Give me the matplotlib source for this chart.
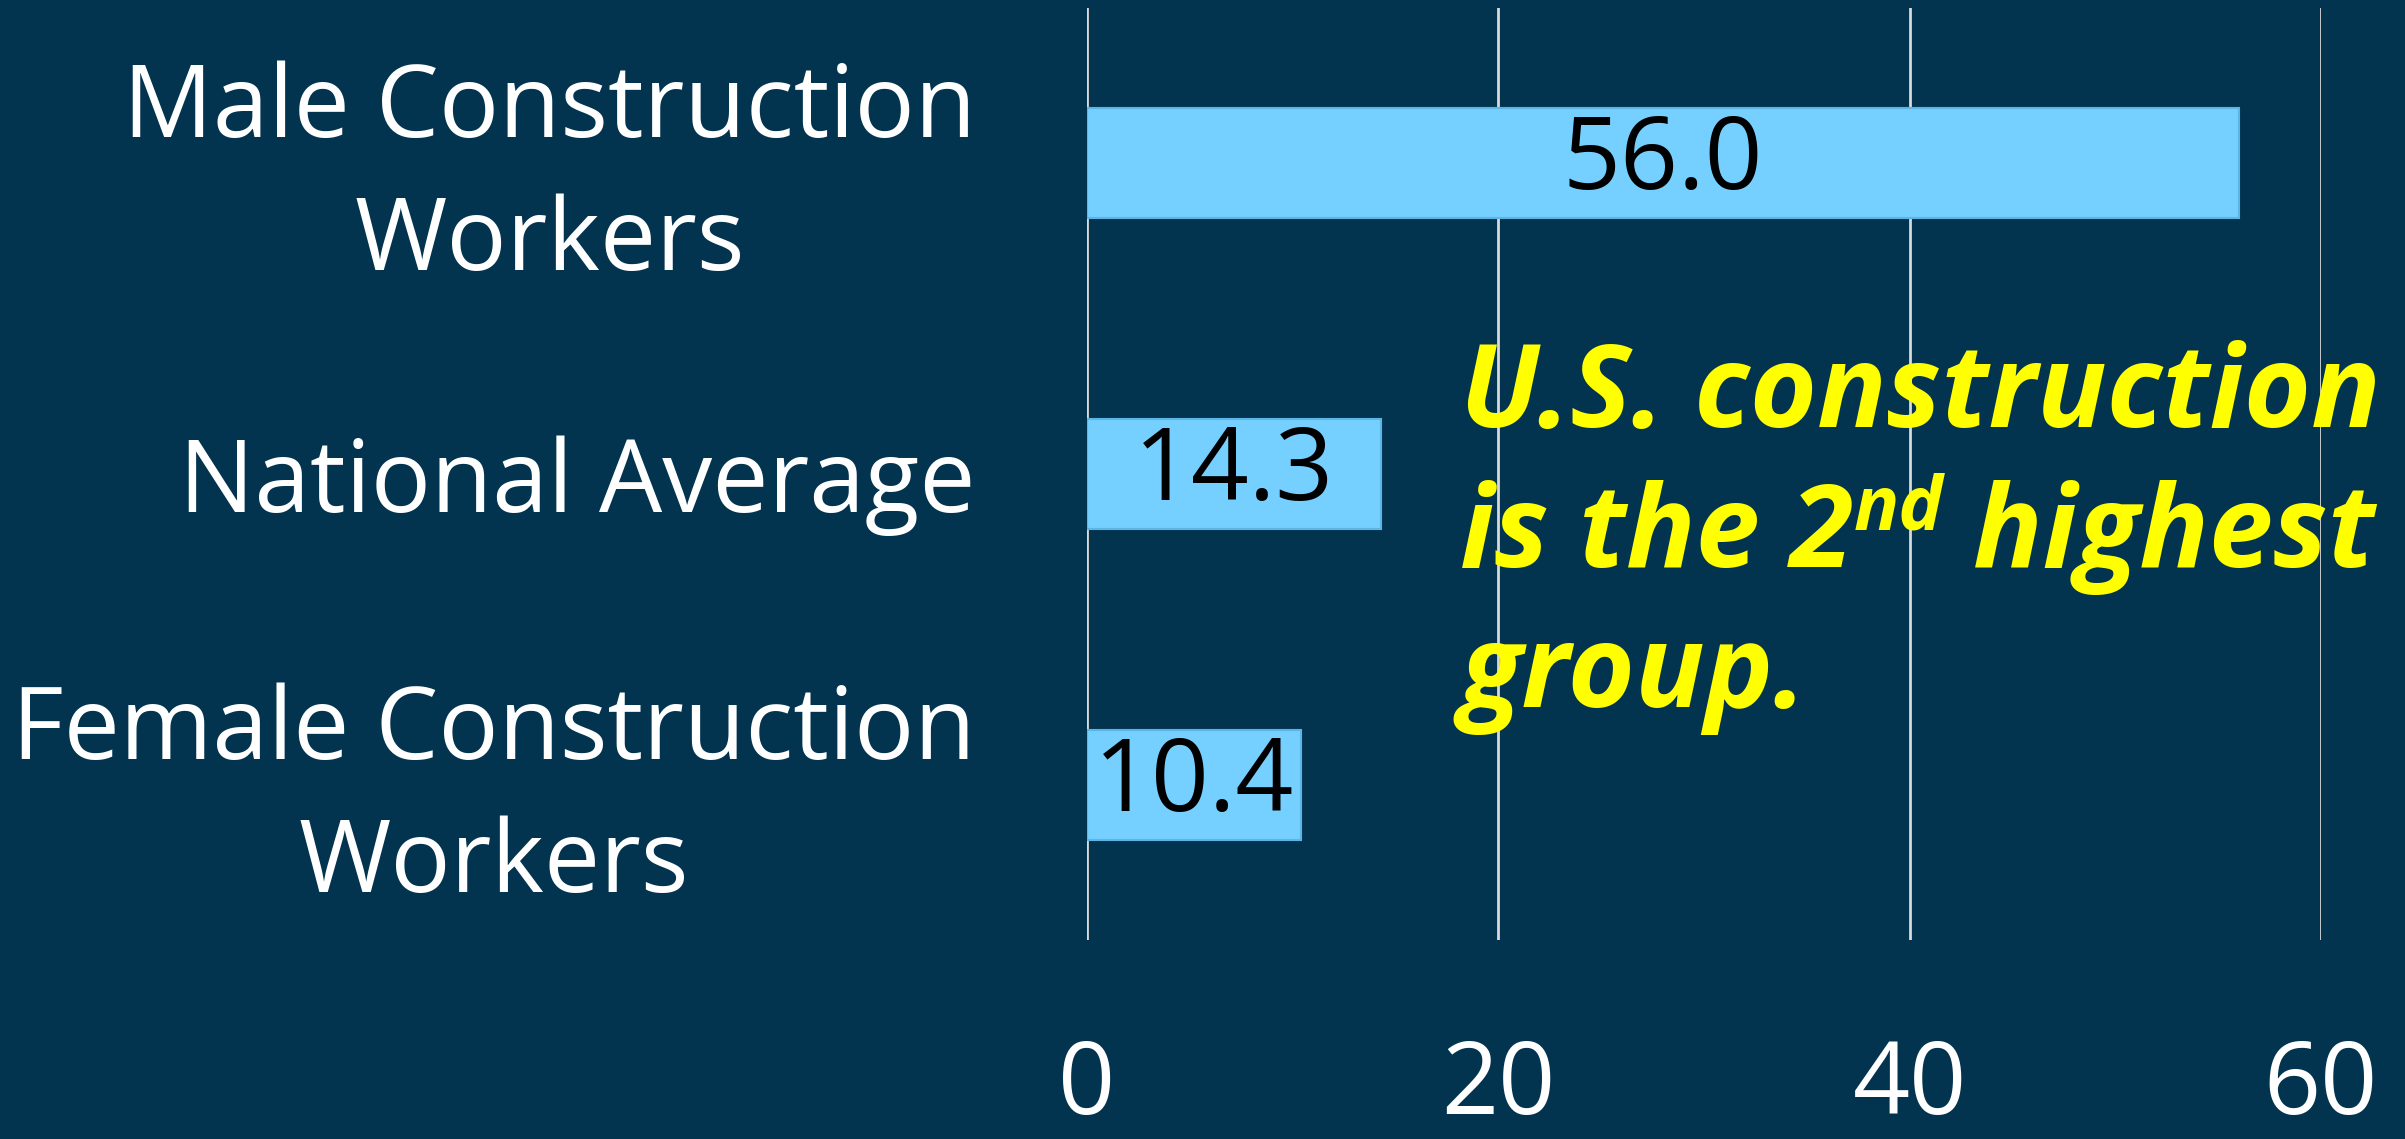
import matplotlib
matplotlib.use("Agg")
import matplotlib.pyplot as plt
import matplotlib.transforms as mtransforms

categories = ["Male Construction\nWorkers", "National Average", "Female Construction\nWorkers"]
values = [56.0, 14.3, 10.4]
xticks = [0, 20, 40, 60]
note_lines = ["U.S. construction", "is the 2", "nd", " highest", "group."]

BG = "#02344F"
BAR = "#75D0FF"
FONT = ["Open Sans", "DejaVu Sans"]

fig = plt.figure(figsize=(24.05, 11.39), dpi=100, facecolor=BG)
ax = fig.add_axes([0.452, 0.1743, 0.513, 0.819], facecolor=BG)

y = list(range(len(categories)))
bars = ax.barh(y, values, height=0.354, color=BAR, edgecolor="#5DB5E5", linewidth=1.5, zorder=3)
ax.set_ylim(2.5, -0.5)
ax.set_xlim(0, 60)
ax.set_xticks(xticks)
ax.set_xticklabels([str(t) for t in xticks])
ax.set_yticks(y)
ax.set_yticklabels(categories, multialignment="center", linespacing=1.42)
ax.tick_params(axis="y", length=0, pad=80)
ax.tick_params(axis="x", length=0, pad=70)
shift_up = mtransforms.ScaledTranslation(0, 10 / 72, fig.dpi_scale_trans)
for lab in ax.get_yticklabels():
    lab.set_family(FONT)
    lab.set_fontsize(72)
    lab.set_color("white")
    if "\n" in lab.get_text():
        lab.set_transform(lab.get_transform() + shift_up)
for lab in ax.get_xticklabels():
    lab.set_family(FONT)
    lab.set_fontsize(72)
    lab.set_color("white")
ax.grid(axis="x", color="#D9D9D9", linewidth=2, zorder=0)
ax.grid(axis="y", visible=False)
for s in ax.spines.values():
    s.set_visible(False)

ax.bar_label(bars, labels=[f"{v:.1f}" for v in values], label_type="center",
             fontsize=73, color="black", family=FONT)

# annotation
ycol = "#FFFF00"
kw = dict(color=ycol, fontsize=83, fontweight="bold", fontstyle="italic", family=FONT, va="baseline", ha="left")
x0 = 0.607
fig.text(x0, 1 - 427 / 1139, note_lines[0], **kw)
t2 = fig.text(x0, 1 - 567 / 1139, note_lines[1], **kw)
fig.text(x0, 1 - 707 / 1139, note_lines[4], **kw)
fig.canvas.draw()
r = fig.canvas.get_renderer()
bb = t2.get_window_extent(r)
kw2 = dict(kw)
kw2["fontsize"] = 54
t3 = fig.text(bb.x1 / fig.bbox.width, 1 - 530 / 1139, note_lines[2], **kw2)
bb3 = t3.get_window_extent(r)
fig.text(bb3.x1 / fig.bbox.width, 1 - 567 / 1139, note_lines[3], **kw)

fig.savefig("out.png", dpi=100, facecolor=BG)
